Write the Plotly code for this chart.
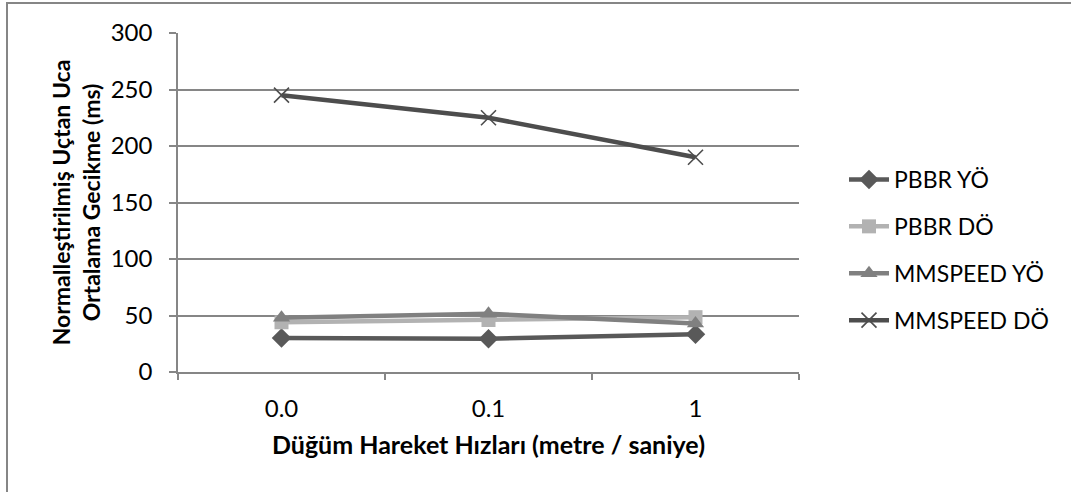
import plotly.graph_objects as go

# Node movement speeds (m/s) and normalized end-to-end average delay (ms)
categories = ["0.0", "0.1", "1"]
pbbr_yo = [30, 29.5, 33.5]
pbbr_do = [44, 46, 48.5]
mmspeed_yo = [48, 51.5, 43]
mmspeed_do = [245, 225, 190]

series_names = ["PBBR YÖ", "PBBR DÖ", "MMSPEED YÖ", "MMSPEED DÖ"]
y_ticks = [0, 50, 100, 150, 200, 250, 300]

FONT = "Lato"
GRID = "#868686"

styles = [
    dict(color="#595959", symbol="diamond", size=15, lw=0),
    dict(color="#b2b2b2", symbol="square", size=14, lw=0),
    dict(color="#808080", symbol="triangle-up", size=15, lw=0),
    dict(color="#4d4d4d", symbol="x-thin", size=15, lw=1.6),
]
values = [pbbr_yo, pbbr_do, mmspeed_yo, mmspeed_do]

fig = go.Figure()
for i, (name, vals, st) in enumerate(zip(series_names, values, styles)):
    fig.add_trace(go.Scatter(
        x=categories, y=vals, name=name, mode="lines+markers",
        legendgroup=f"g{i}",
        line=dict(color=st["color"], width=4.5),
        marker=dict(symbol=st["symbol"], size=st["size"], color=st["color"],
                    line=dict(color=st["color"], width=st["lw"])),
    ))

W, H = 1071, 492
L, R, T, B = 178, 272, 33, 120
pw, ph = W - L - R, H - T - B

def px_x(p):
    return (p - L) / pw

def px_y(p):
    return (H - B - p) / ph

fig.update_layout(
    width=W, height=H,
    margin=dict(l=L, r=R, t=T, b=B),
    paper_bgcolor="white", plot_bgcolor="white",
    font=dict(family=FONT, size=24, color="#000000"),
    showlegend=True,
    legend=dict(x=px_x(844), y=px_y(158), xanchor="left", yanchor="top",
                font=dict(size=23, family=FONT), tracegroupgap=14,
                itemwidth=40, bgcolor="rgba(0,0,0,0)"),
    xaxis=dict(
        type="category", range=[-0.5, 2.5],
        showgrid=False, showline=True, linecolor=GRID, linewidth=1.5,
        ticks="outside", tickson="boundaries", ticklen=6, tickcolor=GRID,
        tickwidth=1.5, tickfont=dict(size=24, family=FONT),
        ticklabelstandoff=14,
        title=dict(text="<b>Düğüm Hareket Hızları (metre / saniye)</b>",
                   font=dict(size=25, family=FONT), standoff=16),
    ),
    yaxis=dict(
        range=[0, 300], tickvals=y_ticks, showgrid=True, gridcolor=GRID,
        gridwidth=1.5, zeroline=False, showline=True, linecolor=GRID,
        linewidth=1.5, ticks="outside", ticklen=7, tickcolor=GRID, tickwidth=1.5,
        tickfont=dict(size=24, family=FONT), ticklabelstandoff=12,
        title=dict(text="<b>Normalleştirilmiş Uçtan Uca<br>Ortalama Gecikme (ms)</b>",
                   font=dict(size=23, family=FONT), standoff=4),
    ),
    shapes=[dict(type="rect", xref="paper", yref="paper",
                 x0=px_x(7), x1=px_x(1090), y0=px_y(510), y1=px_y(3),
                 line=dict(color=GRID, width=2), fillcolor="rgba(0,0,0,0)",
                 layer="below")],
)

fig.write_html("out.html")
